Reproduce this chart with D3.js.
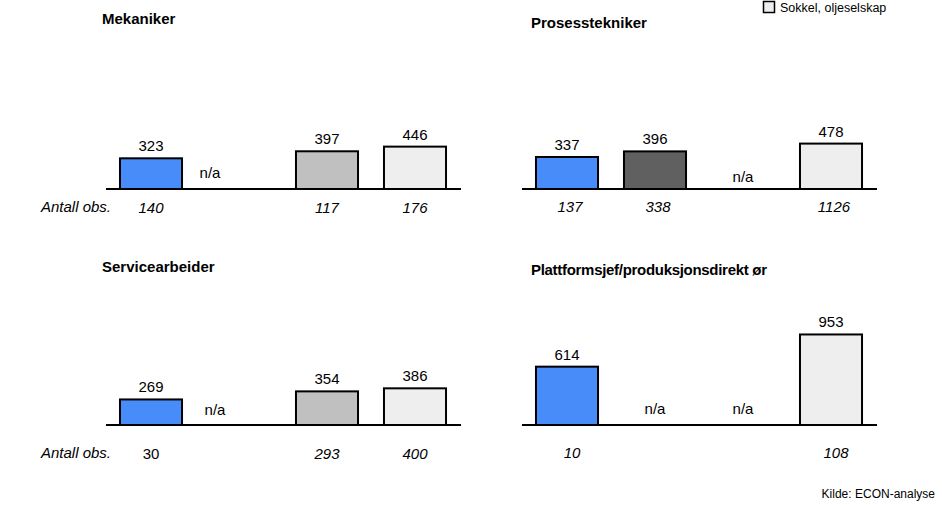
<!DOCTYPE html>
<html>
<head>
<meta charset="utf-8">
<script src="https://cdn.jsdelivr.net/npm/d3@7/dist/d3.min.js"></script>
<style>
  html, body { margin: 0; padding: 0; background: #fff; }
  svg { display: block; font-family: "Liberation Sans", Arial, sans-serif; }
</style>
</head>
<body>
<svg id="chart" width="942" height="505"></svg>
<script>
// Occupational groups, one small panel each
const panelTitles = ["Mekaniker", "Prosesstekniker", "Servicearbeider", "Plattformsjef/produksjonsdirekt ør"];

// Four wage series per panel (null = n/a); last series is "Sokkel, oljeselskap"
const seriesIndex = [0, 1, 2, 3];
const mekanikerValues = [323, null, 397, 446];
const prosessValues = [337, 396, null, 478];
const serviceValues = [269, null, 354, 386];
const plattformValues = [614, null, null, 953];

// Number of observations behind each bar
const mekanikerObs = ["140", null, "117", "176"];
const prosessObs = ["137", "338", null, "1126"];
const serviceObs = ["30", null, "293", "400"];
const plattformObs = ["10", null, null, "108"];
// Observation labels printed upright rather than in italics
const serviceObsUpright = [true, false, false, false];

const legendLabels = ["Sokkel, oljeselskap"];
const sourceText = "Kilde:  ECON-analyse";
const obsRowLabel = "Antall obs.";

const seriesFill = ["#478cf8", "#606060", "#c0c0c0", "#eeeeee"];

const panelValues = [mekanikerValues, prosessValues, serviceValues, plattformValues];
const panelObs = [mekanikerObs, prosessObs, serviceObs, plattformObs];
const panelUpright = [null, null, serviceObsUpright, null];

// Panel geometry
const layout = [
  { left: 107, right: 459, axisY: 189, titleX: 102, titleY: 24, titleSpacing: 0, naDx: -29, naDy: -11, obsDy: 24, obsDx: 0, obsRow: true },
  { left: 523, right: 875, axisY: 189, titleX: 531, titleY: 28, titleSpacing: 0, naDx: 0, naDy: -7, obsDy: 23, obsDx: 3, obsRow: false },
  { left: 107, right: 459, axisY: 425, titleX: 102, titleY: 272, titleSpacing: 0, naDx: -24, naDy: -10, obsDy: 34, obsDx: 0, obsRow: true },
  { left: 523, right: 875, axisY: 425, titleX: 531, titleY: 275, titleSpacing: -0.3, naDx: 0, naDy: -11, obsDy: 33, obsDx: 5, obsRow: false }
];

const svg = d3.select("#chart");

// One shared value scale: bar height in pixels
const h = d3.scaleLinear().domain([0, 1000]).range([0, 95]);

panelTitles.forEach((title, p) => {
  const L = layout[p];
  const x = d3.scaleBand()
    .domain(seriesIndex)
    .range([L.left, L.right])
    .paddingInner(0.295)
    .paddingOuter(0.1475);

  const g = svg.append("g");

  g.append("text")
    .attr("x", L.titleX).attr("y", L.titleY)
    .attr("font-size", 15).attr("font-weight", "bold")
    .attr("letter-spacing", L.titleSpacing)
    .attr("fill", "#000")
    .text(title);

  const vals = panelValues[p];
  const rows = seriesIndex.map(i => ({ i, v: vals[i], o: panelObs[p][i] }));

  // bars
  g.selectAll("rect.bar")
    .data(rows.filter(d => d.v !== null))
    .join("rect")
    .attr("class", "bar")
    .attr("x", d => x(d.i))
    .attr("width", x.bandwidth())
    .attr("y", d => L.axisY - h(d.v))
    .attr("height", d => h(d.v))
    .attr("fill", d => seriesFill[d.i])
    .attr("stroke", "#000")
    .attr("stroke-width", 2);

  // value labels
  g.selectAll("text.val")
    .data(rows.filter(d => d.v !== null))
    .join("text")
    .attr("class", "val")
    .attr("x", d => x(d.i) + x.bandwidth() / 2)
    .attr("y", d => L.axisY - h(d.v) - 7)
    .attr("text-anchor", "middle")
    .attr("font-size", 15)
    .text(d => d.v);

  // n/a markers
  g.selectAll("text.na")
    .data(rows.filter(d => d.v === null))
    .join("text")
    .attr("class", "na")
    .attr("x", d => x(d.i) + x.bandwidth() / 2 + L.naDx)
    .attr("y", L.axisY + L.naDy)
    .attr("text-anchor", "middle")
    .attr("font-size", 15)
    .text("n/a");

  // baseline
  g.append("line")
    .attr("x1", L.left - 1).attr("x2", L.right + 2)
    .attr("y1", L.axisY).attr("y2", L.axisY)
    .attr("stroke", "#000").attr("stroke-width", 2);

  // observation counts
  g.selectAll("text.obs")
    .data(rows.filter(d => d.o !== null))
    .join("text")
    .attr("class", "obs")
    .attr("x", d => x(d.i) + x.bandwidth() / 2 + L.obsDx)
    .attr("y", L.axisY + L.obsDy)
    .attr("text-anchor", "middle")
    .attr("font-size", 15)
    .attr("font-style", d => (panelUpright[p] && panelUpright[p][d.i]) ? "normal" : "italic")
    .text(d => d.o);

  if (L.obsRow) {
    g.append("text")
      .attr("x", 111).attr("y", L.axisY + L.obsDy - 1)
      .attr("text-anchor", "end")
      .attr("font-size", 15).attr("font-style", "italic")
      .text(obsRowLabel);
  }
});

// legend (only the last series entry fits on the canvas)
const leg = svg.append("g").attr("transform", "translate(763,1)");
leg.append("rect")
  .attr("x", 0.5).attr("y", 0.5).attr("width", 11).attr("height", 11)
  .attr("fill", seriesFill[3]).attr("stroke", "#000").attr("stroke-width", 1.5);
leg.append("text")
  .attr("x", 17).attr("y", 10.5)
  .attr("font-size", 12.5)
  .text(legendLabels[0]);

// source note
svg.append("text")
  .attr("x", 935).attr("y", 498)
  .attr("text-anchor", "end")
  .attr("font-size", 12)
  .text(sourceText);
</script>
</body>
</html>
